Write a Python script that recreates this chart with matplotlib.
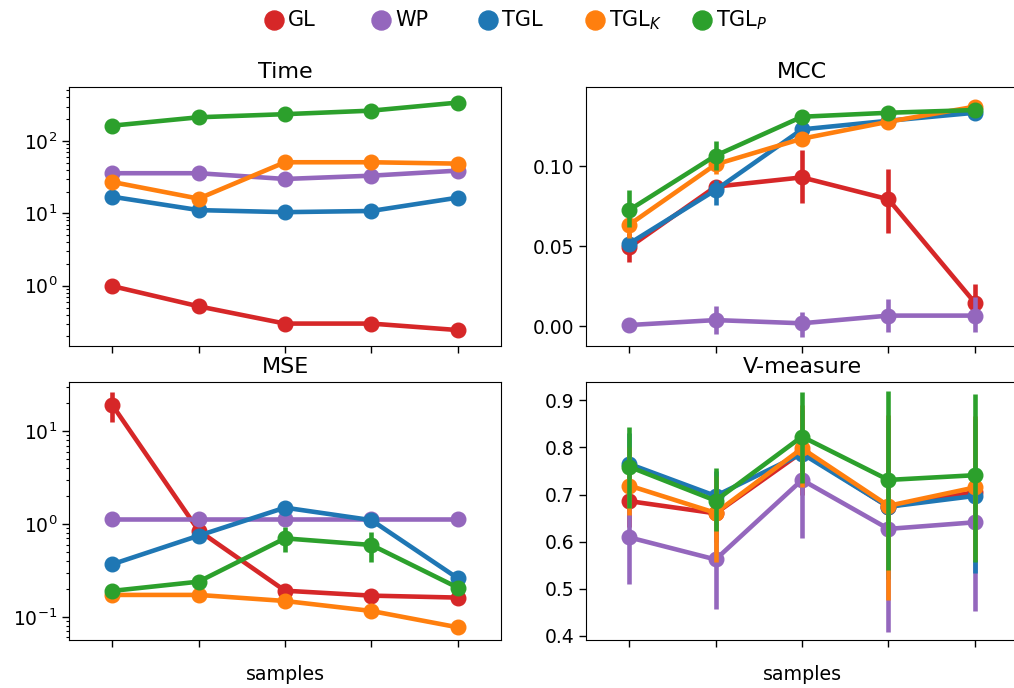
import numpy as np
import matplotlib
matplotlib.use("Agg")
import matplotlib.pyplot as plt
from matplotlib.lines import Line2D

# ---------------- data ----------------
methods = ["GL", "WP", "TGL", "TGL$_K$", "TGL$_P$"]
colors = ["#d62728", "#9467bd", "#1f77b4", "#ff7f0e", "#2ca02c"]
sample_labels = ["", "", "", "", ""]

# Time (log scale)
time_GL = [0.99, 0.52, 0.30, 0.30, 0.244]
time_WP = [35.9, 35.9, 29.9, 33.2, 39.0]
time_TGL = [17.0, 11.1, 10.4, 10.8, 16.5]
time_TGLK = [27.2, 16.0, 50.9, 50.9, 48.7]
time_TGLP = [163, 213, 235, 263, 340]

# MCC
mcc_GL = [0.0492, 0.0871, 0.0929, 0.0792, 0.0146]
mcc_GL_lo = [0.040, 0.084, 0.077, 0.058, 0.004]
mcc_GL_hi = [0.058, 0.090, 0.110, 0.098, 0.026]
mcc_WP = [0.0006, 0.0037, 0.0017, 0.0065, 0.0065]
mcc_WP_lo = [-0.001, -0.005, -0.0067, -0.0035, -0.004]
mcc_WP_hi = [0.002, 0.0125, 0.009, 0.0167, 0.018]
mcc_TGL = [0.0515, 0.085, 0.1229, 0.1283, 0.1333]
mcc_TGL_lo = [0.048, 0.0756, 0.120, 0.127, 0.132]
mcc_TGL_hi = [0.055, 0.091, 0.125, 0.130, 0.135]
mcc_TGLK = [0.0633, 0.1010, 0.1171, 0.1277, 0.1371]
mcc_TGLK_lo = [0.055, 0.095, 0.114, 0.126, 0.136]
mcc_TGLK_hi = [0.070, 0.106, 0.120, 0.130, 0.139]
mcc_TGLP = [0.0725, 0.1065, 0.1308, 0.1333, 0.1350]
mcc_TGLP_lo = [0.062, 0.0975, 0.129, 0.132, 0.134]
mcc_TGLP_hi = [0.085, 0.1156, 0.132, 0.135, 0.136]

# MSE (log scale)
mse_GL = [19.2, 0.85, 0.191, 0.169, 0.161]
mse_GL_lo = [12.7, 0.80, 0.18, 0.16, 0.155]
mse_GL_hi = [26.7, 0.90, 0.20, 0.18, 0.167]
mse_WP = [1.13, 1.13, 1.13, 1.13, 1.13]
mse_TGL = [0.368, 0.748, 1.50, 1.10, 0.26]
mse_TGLK = [0.172, 0.172, 0.148, 0.1155, 0.077]
mse_TGLP = [0.19, 0.239, 0.70, 0.594, 0.206]
mse_TGLP_lo = [0.18, 0.23, 0.503, 0.393, 0.20]
mse_TGLP_hi = [0.20, 0.25, 0.935, 0.826, 0.215]

# V-measure
vm_GL = [0.686, 0.660, 0.790, 0.674, 0.705]
vm_GL_lo = [0.63, 0.60, 0.70, 0.52, 0.56]
vm_GL_hi = [0.75, 0.72, 0.88, 0.85, 0.85]
vm_WP = [0.609, 0.562, 0.731, 0.627, 0.641]
vm_WP_lo = [0.509, 0.456, 0.607, 0.4085, 0.453]
vm_WP_hi = [0.71, 0.67, 0.85, 0.84, 0.83]
vm_TGL = [0.765, 0.697, 0.787, 0.674, 0.697]
vm_TGL_lo = [0.68, 0.63, 0.72, 0.52, 0.533]
vm_TGL_hi = [0.83, 0.75, 0.88, 0.86, 0.86]
vm_TGLK = [0.719, 0.661, 0.798, 0.676, 0.715]
vm_TGLK_lo = [0.656, 0.557, 0.717, 0.476, 0.56]
vm_TGLK_hi = [0.80, 0.74, 0.89, 0.869, 0.866]
vm_TGLP = [0.759, 0.687, 0.823, 0.731, 0.741]
vm_TGLP_lo = [0.671, 0.623, 0.724, 0.540, 0.557]
vm_TGLP_hi = [0.843, 0.756, 0.918, 0.920, 0.913]

# ---------------- figure ----------------
plt.rcParams["font.family"] = ["DejaVu Sans"]
plt.rcParams["font.size"] = 13.5
plt.rcParams["xtick.direction"] = "out"
plt.rcParams["ytick.direction"] = "out"

W, H = 1014, 688
fig = plt.figure(figsize=(W / 100, H / 100), dpi=100)


def add_ax(left, right, top, bottom):
    return fig.add_axes([left / W, 1 - bottom / H, (right - left) / W, (bottom - top) / H])


ax_time = add_ax(69, 501, 87, 346)
ax_mcc = add_ax(586, 1018, 87, 346)
ax_mse = add_ax(69, 501, 382, 640)
ax_vm = add_ax(586, 1018, 382, 640)

LW = 3.3
MS = 10.5
x = np.arange(len(sample_labels))


def draw(ax, series, errs):
    for vals, err, c in zip(series, errs, colors):
        if err is not None:
            lo, hi = err
            ax.vlines(x, lo, hi, colors=c, linewidth=LW)
        ax.plot(x, vals, "-o", color=c, lw=LW, ms=MS)


draw(ax_time, [time_GL, time_WP, time_TGL, time_TGLK, time_TGLP], [None] * 5)
draw(ax_mcc, [mcc_GL, mcc_WP, mcc_TGL, mcc_TGLK, mcc_TGLP],
     [(mcc_GL_lo, mcc_GL_hi), (mcc_WP_lo, mcc_WP_hi), (mcc_TGL_lo, mcc_TGL_hi),
      (mcc_TGLK_lo, mcc_TGLK_hi), (mcc_TGLP_lo, mcc_TGLP_hi)])
draw(ax_mse, [mse_GL, mse_WP, mse_TGL, mse_TGLK, mse_TGLP],
     [(mse_GL_lo, mse_GL_hi), None, None, None, (mse_TGLP_lo, mse_TGLP_hi)])
draw(ax_vm, [vm_GL, vm_WP, vm_TGL, vm_TGLK, vm_TGLP],
     [(vm_GL_lo, vm_GL_hi), (vm_WP_lo, vm_WP_hi), (vm_TGL_lo, vm_TGL_hi),
      (vm_TGLK_lo, vm_TGLK_hi), (vm_TGLP_lo, vm_TGLP_hi)])

ax_time.set_yscale("log")
ax_time.set_ylim(0.147, 558)
ax_mse.set_yscale("log")
ax_mse.set_ylim(0.0562, 33.9)
ax_mcc.set_ylim(-0.0125, 0.1494)
ax_mcc.set_yticks([0.0, 0.05, 0.10])
ax_mcc.set_yticklabels(["0.00", "0.05", "0.10"])
ax_vm.set_ylim(0.391, 0.939)
ax_vm.set_yticks([0.4, 0.5, 0.6, 0.7, 0.8, 0.9])

for ax, title in [(ax_time, "Time"), (ax_mcc, "MCC"), (ax_mse, "MSE"), (ax_vm, "V-measure")]:
    ax.set_xlim(-0.5, len(sample_labels) - 0.5)
    ax.set_xticks(x)
    ax.set_xticklabels(sample_labels)
    ax.set_title(title, fontsize=16, pad=6.5)
    ax.tick_params(axis="both", which="major", length=5, width=1, labelsize=13.5)
    ax.tick_params(axis="both", which="minor", length=2.5, width=0.8)

for ax in (ax_mse, ax_vm):
    ax.set_xlabel("samples", fontsize=13.7, labelpad=9.5)

# legend: equal-width columns across the top
leg_x0, leg_step, leg_y = 274 / W, 107 / W, 1 - 20 / H
for i, (name, c) in enumerate(zip(methods, colors)):
    cx = leg_x0 + i * leg_step
    fig.add_artist(Line2D([cx], [leg_y], marker="o", linestyle="", color=c,
                          markersize=13.7, transform=fig.transFigure))
    fig.text(cx + 14 / W, leg_y, name, fontsize=15, va="center", ha="left")

fig.savefig("out.png", dpi=100)
